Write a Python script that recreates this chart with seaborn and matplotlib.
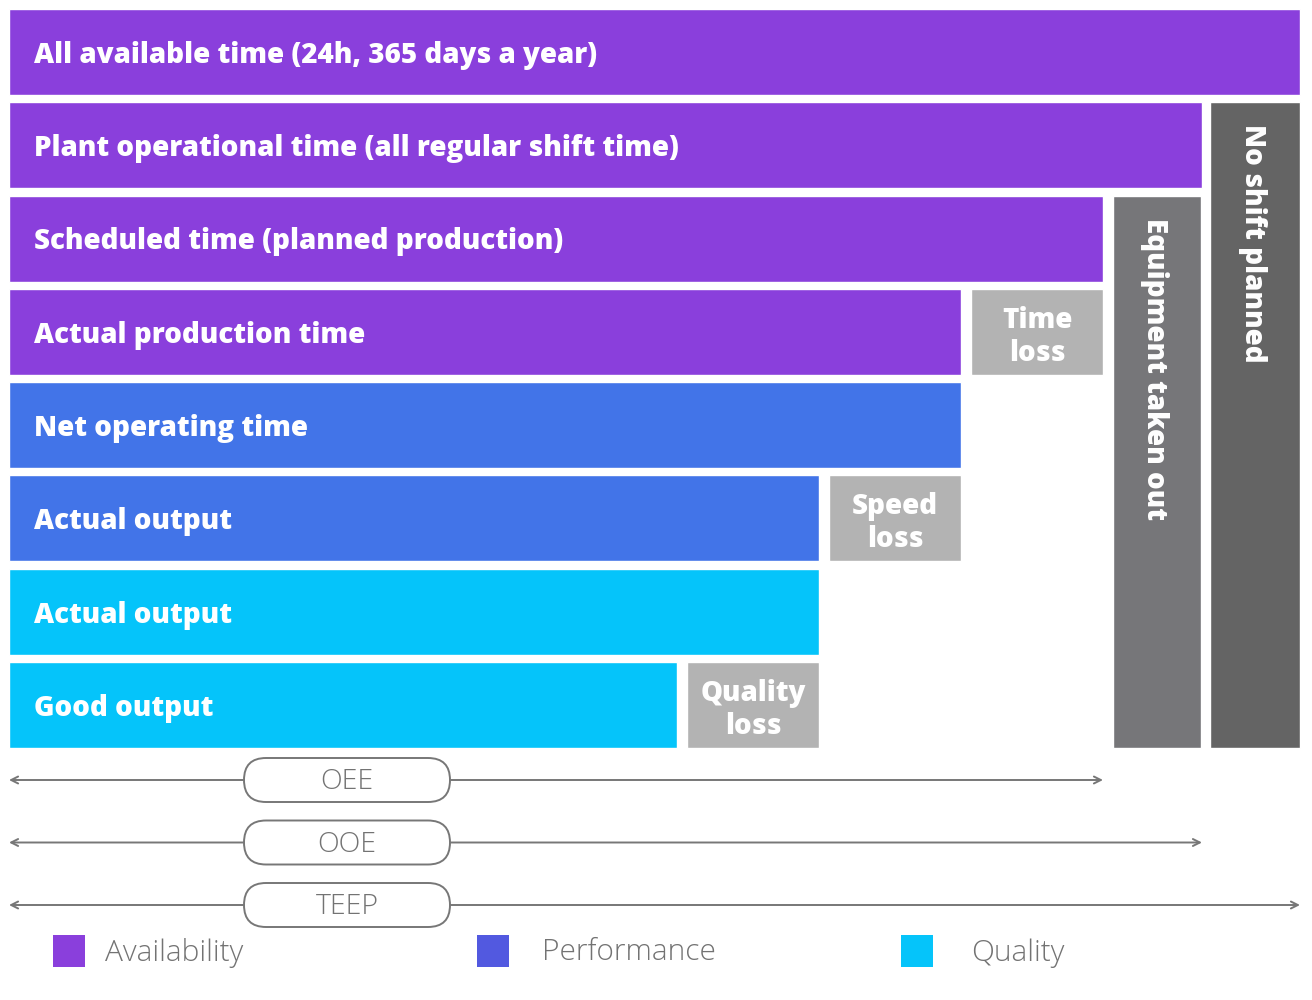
import matplotlib
matplotlib.use('Agg')
import matplotlib.pyplot as plt
from matplotlib.patches import FancyBboxPatch
import seaborn as sns
import pandas as pd

# main bars (lengths in px units, all start at the left edge)
row_labels = ['All available time (24h, 365 days a year)',
              'Plant operational time (all regular shift time)',
              'Scheduled time (planned production)',
              'Actual production time',
              'Net operating time',
              'Actual output',
              'Actual output',
              'Good output']
row_values = [1291, 1193, 1094, 952, 952, 810, 810, 668]
row_groups = ['Availability', 'Availability', 'Availability', 'Availability',
              'Performance', 'Performance', 'Quality', 'Quality']

# loss boxes next to the bars
loss_labels = ['Time\nloss', 'Speed\nloss', 'Quality\nloss']
loss_rows = [3, 5, 7]
loss_start = [962, 820, 678]
loss_width = [132, 132, 132]

# vertical blocks on the right
side_labels = ['Equipment taken out', 'No shift planned']
side_start = [1104, 1201]
side_width = [88, 90]
side_first_row = [2, 1]
side_colors = ['#767679', '#646464']

# metric spans
metric_names = ['OEE', 'OOE', 'TEEP']
metric_ends = [1094, 1193, 1291]

legend_names = ['Availability', 'Performance', 'Quality']
bar_palette = {'Availability': '#8a3fdc', 'Performance': '#4274e8', 'Quality': '#05c4fa'}
legend_colors = ['#8a3fdc', '#5259e0', '#05c4fa']
loss_color = '#b3b3b3'
text_gray = '#737373'

sns.set_style('white')
plt.rcParams['font.family'] = ['Open Sans', 'DejaVu Sans']
BOLD = dict(family=['Open Sans', 'DejaVu Sans'], weight=800)
LIGHT = dict(family=['Open Sans', 'DejaVu Sans'], weight=300)

df = pd.DataFrame({'row': list(range(len(row_labels))), 'label': row_labels,
                   'value': row_values, 'group': row_groups})

PITCH = 93.25
fig = plt.figure(figsize=(13.12, 10), dpi=100)
ax = fig.add_axes([0, 0, 1, 1])
bar_h = 86 / PITCH

sns.barplot(data=df, x='value', y='row', hue='group', palette=bar_palette,
            orient='h', dodge=False, width=bar_h, saturation=1, legend=False, ax=ax)

for i, lab in enumerate(row_labels):
    ax.text(25, i + 11 / PITCH, lab, color='white', fontsize=20, fontdict=BOLD,
            ha='left', va='baseline')

for lab, r, s, w in zip(loss_labels, loss_rows, loss_start, loss_width):
    ax.barh(r, w, left=s, height=bar_h, color=loss_color)
    ax.text(s + w / 2, r + 5 / PITCH, lab, color='white', fontsize=20, fontdict=BOLD,
            ha='center', va='center', linespacing=1.2)

last_row = len(row_labels) - 1
for lab, s, w, r0, c in zip(side_labels, side_start, side_width, side_first_row, side_colors):
    top = r0 - bar_h / 2
    bottom = last_row + bar_h / 2
    ax.bar(s + w / 2, bottom - top, bottom=top, width=w, color=c)
    ax.text(s + w / 2 - 2, top + 22 / PITCH, lab, color='white', fontsize=20,
            fontdict=BOLD, ha='center', va='top', rotation=-90)

# metric arrows with pill labels
for k, (name, end) in enumerate(zip(metric_names, metric_ends)):
    y = (780 - 52 + k * 62.5) / PITCH
    ax.annotate('', xy=(end, y), xytext=(0, y),
                arrowprops=dict(arrowstyle='<->,head_length=0.5,head_width=0.25',
                                color='#777777', lw=1.4, shrinkA=0, shrinkB=0))
    pill = FancyBboxPatch((235, y - 22 / PITCH), 206, 44 / PITCH,
                          boxstyle='round,pad=0,rounding_size=22',
                          mutation_aspect=1 / PITCH,
                          facecolor='white', edgecolor='#777777', lw=1.4, zorder=3)
    ax.add_patch(pill)
    ax.text(338, y + 9 / PITCH, name, color=text_gray, fontsize=20.5, fontdict=LIGHT,
            ha='center', va='baseline', zorder=4)

# legend
leg_x = [59.5, 483.5, 907.5]
leg_text_x = [96, 533, 962]
leg_y = (950.5 - 52) / PITCH
for name, c, x, tx in zip(legend_names, legend_colors, leg_x, leg_text_x):
    ax.scatter([x], [leg_y], marker='s', s=560, color=c, linewidths=0)
    ax.text(tx, leg_y + 10 / PITCH, name, color=text_gray, fontsize=21.5,
            fontdict=LIGHT, ha='left', va='baseline')

ax.set_xlim(-9, 1303)
ax.set_ylim((1000 - 52) / PITCH, -52 / PITCH)
ax.axis('off')

fig.savefig('out.png', dpi=100)
